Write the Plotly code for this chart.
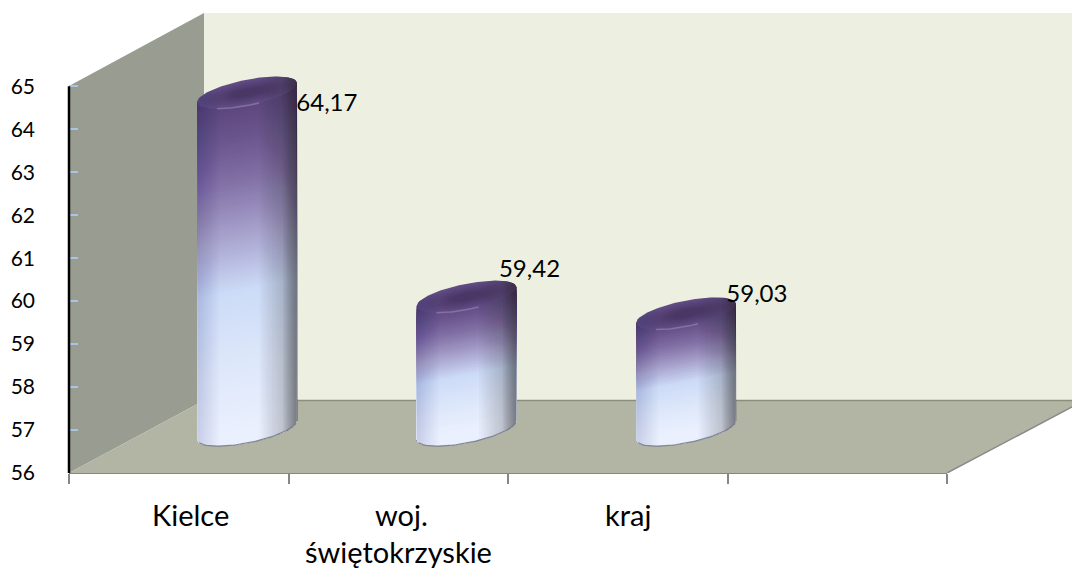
import numpy as np
import plotly.graph_objects as go

# --- data ---
categories_line1 = ["Kielce", "woj.", "kraj"]
categories_line2 = ["", "świętokrzyskie", ""]
values = [64.17, 59.42, 59.03]
value_labels = ["64,17", "59,42", "59,03"]
y_ticks = [56, 57, 58, 59, 60, 61, 62, 63, 64, 65]
x_ticks = [0, 1, 2, 3, 4]

# --- scale of the plot area (pixels per axis unit) ---
W, H = 1072, 568
L, R, T, B = 69, 0, 13, 95
PX = 219.5
PY = 42.97
x_max = (W - L - R) / PX
y_max = 56 + (H - T - B) / PY


def xd(px):
    return (px - L) / PX


def yd(py):
    return 56 + (473 - py) / PY


def yp(py):
    return (473 - py) / (H - T - B)


# --- look of the cylinders ---
bar_offset = 0.811          # pseudo-3D shift along the category axis
depth_shift = 0.683         # pseudo-3D lift of the top
base_level = 57.0
A, SH, BB = 50.0, 9.5, 13.0  # half width, shear, half height of the ellipse (px)
STOPS = [(0.0, (88, 66, 120)), (0.12, (106, 84, 140)), (0.25, (130, 112, 165)), (0.40, (165, 158, 202)),
         (0.58, (204, 219, 247)), (0.80, (222, 232, 250)), (1.0, (234, 240, 254))]


def band_colour(t):
    ts = [s[0] for s in STOPS]
    c = [np.interp(t, ts, [s[1][i] for s in STOPS]) for i in range(3)]
    return "rgb(%d,%d,%d)" % tuple(int(round(v)) for v in c)


def arc(d0, d1, sign, n=40):
    """Points of the sheared ellipse between dx=d0 and dx=d1 (px offsets, y down)."""
    dx = np.linspace(d0, d1, n)
    dy = -SH * dx / A + sign * BB * np.sqrt(np.clip(1 - (dx / A) ** 2, 0, 1))
    return dx, dy


fig = go.Figure()


def poly(xc, parts, colour):
    xs = np.concatenate([xc + p[0] / PX for p in parts])
    ys = np.concatenate([p[2] - p[1] / PY for p in parts])
    fig.add_trace(go.Scatter(x=xs, y=ys, mode="lines", fill="toself", fillcolor=colour,
                             line=dict(width=0), hoverinfo="skip", showlegend=False))


for i, v in enumerate(values):
    xc = i + bar_offset
    top = v + depth_shift
    # vertical gradient, painted from the top down
    n = int((top - base_level) * PY / 2.5)
    for k in range(n):
        t = k / (n - 1)
        lev = top + (base_level - top) * t
        bx, by = arc(A, -A, 1)
        ex = np.array([-A, A])
        ey = -SH * ex / A
        poly(xc, [(ex, ey, lev), (bx, by, base_level)], band_colour(t))
    # top face
    c0 = np.array([100, 78, 134])
    c1 = np.array([74, 55, 102])
    for k in range(12):
        f = 1 - k / 15
        dx = np.linspace(-A, A, 60)
        up = -SH * dx / A - BB * np.sqrt(1 - (dx / A) ** 2)
        dn = -SH * dx / A + BB * np.sqrt(1 - (dx / A) ** 2)
        c = c0 + (c1 - c0) * (k / 11)
        xs = np.concatenate([dx, dx[::-1]]) * f
        ys = np.concatenate([up, dn[::-1]]) * f
        poly(xc, [(xs, ys, top)], "rgb(%d,%d,%d)" % tuple(int(x) for x in c))
    # cylinder shading, right side then left side
    for f in np.concatenate([np.linspace(0.25, 0.7, 10), np.linspace(0.72, 0.99, 22)]):
        d0 = A * f
        tx, ty = arc(d0, A, -1, 20)
        bx, by = arc(A, d0, 1, 20)
        poly(xc, [(tx, ty, top), (bx, by, base_level)], "rgba(25,25,50,0.024)")
    for f in np.linspace(0.55, 0.98, 12):
        d0 = -A * f
        tx, ty = arc(-A, d0, -1, 20)
        bx, by = arc(d0, -A, 1, 20)
        poly(xc, [(tx, ty, top), (bx, by, base_level)], "rgba(25,25,50,0.012)")
    # light on the front rim of the top face
    hx, hy = arc(-30, 12, 1, 20)
    fig.add_trace(go.Scatter(x=xc + hx / PX, y=top - hy / PY, mode="lines",
                             line=dict(color="rgba(175,155,205,0.45)", width=1.5),
                             hoverinfo="skip", showlegend=False))
    # dark rim at the foot
    rx, ry = arc(-A + 2, A - 1, 1, 40)
    fig.add_trace(go.Scatter(x=xc + rx / PX, y=base_level - ry / PY, mode="lines",
                             line=dict(color="rgba(110,115,130,0.85)", width=1.2),
                             hoverinfo="skip", showlegend=False))

# value labels
label_dx = [1.175, 1.098, 1.134]
label_dy = [0.39, 1.28, 1.09]
fig.add_trace(go.Scatter(
    x=[i + label_dx[i] for i in range(3)],
    y=[v + d for v, d in zip(values, label_dy)],
    mode="text", text=value_labels, textposition="middle center",
    textfont=dict(family="Lato", size=24, color="black"),
    cliponaxis=False, hoverinfo="skip", showlegend=False))

# --- walls and floor ---
wall = lambda pts: "M " + " L ".join(f"{xd(a):.4f},{yd(b):.4f}" for a, b in pts) + " Z"
shapes = [
    dict(type="path", path=wall([(204, 13), (1072, 13), (1072, 400.5), (204, 400.5)]),
         fillcolor="#edf0e0", line=dict(width=0), layer="below"),
    dict(type="path", path=wall([(69, 86), (204, 13), (204, 400.5), (69, 473)]),
         fillcolor="#999c90", line=dict(width=0), layer="below"),
    dict(type="path", path=wall([(69, 473), (204, 400.5), (1072, 400.5), (1072, 407), (947, 473)]),
         fillcolor="#b2b5a3", line=dict(width=0), layer="below"),
    dict(type="line", x0=xd(204), x1=xd(1072), y0=yd(400.5), y1=yd(400.5),
         line=dict(color="#8c8e7c", width=1.5), layer="below"),
    dict(type="line", x0=xd(947), x1=xd(1072), y0=yd(473), y1=yd(407),
         line=dict(color="#8a8a8a", width=1.5), layer="below"),
    dict(type="line", x0=0, x1=4, xref="x", y0=0, y1=0, yref="paper",
         line=dict(color="#868686", width=2), layer="below"),
    dict(type="line", x0=0, x1=0, xref="paper", y0=56, y1=65, yref="y",
         line=dict(color="black", width=2.5), layer="above"),
]

# category labels
cat_x1 = [xd(190), xd(401), xd(628)]
cat_x2 = [xd(190), xd(398), xd(628)]
annotations = []
for x1, x2, a, b in zip(cat_x1, cat_x2, categories_line1, categories_line2):
    annotations.append(dict(x=x1, y=yp(514), xref="x", yref="paper", text=a, showarrow=False,
                            xanchor="center", yanchor="middle",
                            font=dict(family="Lato", size=29, color="black")))
    if b:
        annotations.append(dict(x=x2, y=yp(551), xref="x", yref="paper", text=b, showarrow=False,
                                xanchor="center", yanchor="middle",
                                font=dict(family="Lato", size=29, color="black")))

fig.update_layout(
    width=W, height=H, autosize=False,
    margin=dict(l=L, r=R, t=T, b=B, pad=0),
    paper_bgcolor="white", plot_bgcolor="white",
    showlegend=False, shapes=shapes, annotations=annotations,
    xaxis=dict(range=[0, x_max], tickmode="array", tickvals=x_ticks, showticklabels=False,
               ticks="outside", ticklen=10, tickwidth=1.5, tickcolor="#868686",
               showgrid=False, zeroline=False, showline=False, fixedrange=True),
    yaxis=dict(range=[56, y_max], tickmode="array", tickvals=y_ticks, ticktext=[str(t) for t in y_ticks],
               ticks="inside", ticklen=9, tickwidth=1.5, tickcolor="#a8c4e8",
               ticklabelstandoff=33, tickfont=dict(family="Lato", size=21, color="black"),
               showgrid=False, zeroline=False, showline=False, fixedrange=True),
)

fig.write_html("out.html", config=dict(displayModeBar=False),
               post_script="document.documentElement.style.margin='0';document.body.style.margin='0';document.body.style.overflow='hidden';")
